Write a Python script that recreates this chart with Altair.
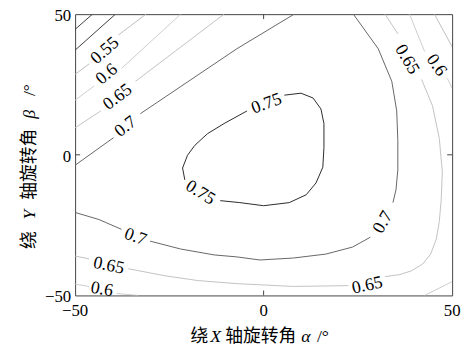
import altair as alt
import pandas as pd

# ---- contour levels and their line colours (grey-converted jet look) ----
LEVELS = ["0.45", "0.5", "0.55", "0.6", "0.65", "0.7", "0.75"]
LEVEL_COLORS = ["#3c3c3c", "#3c3c3c", "#bdbdbd", "#cdcdcd", "#c2c2c2", "#666666", "#2a2a2a"]

# ---- contour segments: (alpha, beta) points; gaps are label breaks ----
C045 = [[(-50, 44.6), (-45.4, 50)]]
C050 = [[(-50, 37.2), (-39.3, 50)]]
C055 = [
    [(-50, 28.6), (-46.3, 32.3)],
    [(-38.5, 42.6), (-31.2, 50)],
    [(45.3, 50), (50, 38.4)],
]
C060 = [
    [(-50, 19.4), (-45.0, 24.4)],
    [(-37.7, 30.7), (-22.0, 50)],
    [(38.7, 50), (42.7, 36.7)],
    [(48.7, 27.2), (50, 23.7)],
    [(-50, -46.0), (-46.3, -46.8)],
    [(-39.0, -49.3), (-33.2, -50)],
    [(42.7, -50), (50, -45.1)],
]
C065 = [
    [(-50, 9.6), (-43.2, 15.6)],
    [(-34.0, 26.1), (-10.5, 50)],
    [(-50, -36.0), (-46.3, -37.0)],
    [(-35.9, -40.5), (-26.2, -43.0), (-17.5, -44.7), (-7.1, -45.8), (7.9, -46.8), (22.5, -46.5)],
    [(32.2, -43.3), (36.1, -42.6), (39.3, -41.2), (42.2, -38.8), (44.3, -35.3), (45.8, -30.0),
     (46.6, -23.7), (47.1, -16.0), (47.4, -6.1), (46.6, 5.8), (44.8, 17.4), (41.9, 26.8)],
    [(35.6, 43.0), (32.2, 50)],
]
C070 = [
    [(-50, -3.7), (-39.8, 6.1)],
    [(-32.7, 14.6), (-7.1, 37.7), (8.1, 50)],
    [(-50, -20.5), (-43.7, -23.0), (-37.7, -26.5)],
    [(-30.1, -30.7), (-22.0, -33.5), (-13.1, -35.6), (-7.1, -36.3), (-1.0, -37.4), (7.9, -36.7),
     (16.5, -35.3), (23.6, -32.8), (28.3, -29.3)],
    [(34.3, -17.0), (35.1, -12.5), (35.6, -5.4), (35.6, 5.1), (35.3, 15.6), (34.0, 26.1),
     (30.4, 37.7), (23.8, 50)],
]
C075 = [
    [(5.5, 21.2), (9.9, 21.9), (13.1, 20.2), (15.2, 16.3), (16.0, 11.1), (16.0, 2.6), (15.7, -4.4),
     (13.9, -10.0), (11.3, -14.2), (6.8, -17.0), (0.0, -18.1), (-6.3, -17.0), (-11.5, -16.3)],
    [(-20.9, -8.9), (-21.5, -4.7), (-20.2, -0.2), (-18.3, 3.3), (-14.9, 7.5), (-10.5, 11.1),
     (-4.4, 15.6)],
]

# ---- inline contour labels ----
LAB_TEXT = ["0.55", "0.6", "0.65", "0.7", "0.75", "0.75", "0.7", "0.65", "0.6", "0.7", "0.65", "0.65", "0.6"]
LAB_ALPHA = [-42.1, -41.6, -38.7, -36.6, 0.8, -16.8, -34.0, -41.1, -42.9, 31.7, 27.5, 38.0, 45.8]
LAB_BETA = [37.0, 28.6, 20.5, 10.0, 18.1, -13.5, -29.3, -39.5, -47.9, -24.0, -46.5, 33.9, 31.8]
LAB_ANGLE = [319, 320, 323, 322, 340, 32, 20, 12, 10, 300, 348, 60, 55]

TICKS = [-50, 0, 50]
INNER_TICKS = [0]

rows = []
for lev, segs in zip(LEVELS, [C045, C050, C055, C060, C065, C070, C075]):
    for si, seg in enumerate(segs):
        for oi, (a, b) in enumerate(seg):
            rows.append({"level": lev, "seg": f"{lev}-{si}", "o": oi, "a": a, "b": b})
df = pd.DataFrame(rows)
lab = pd.DataFrame({"t": LAB_TEXT, "a": LAB_ALPHA, "b": LAB_BETA, "ang": LAB_ANGLE})
tk = pd.DataFrame({"v": INNER_TICKS})
tl_df = pd.DataFrame({"v": TICKS})

W, H = 382, 285
xs = alt.Scale(domain=[-50, 50], nice=False, zero=False)
ys = alt.Scale(domain=[-50, 50], nice=False, zero=False)
SERIF = "'Times New Roman', 'Liberation Serif', 'DejaVu Serif', serif"
CJK = "'Noto Sans CJK SC', sans-serif"

lines = alt.Chart(df).mark_line(strokeWidth=1, clip=True).encode(
    x=alt.X("a:Q", scale=xs, axis=None),
    y=alt.Y("b:Q", scale=ys, axis=None),
    color=alt.Color("level:N", scale=alt.Scale(domain=LEVELS, range=LEVEL_COLORS), legend=None),
    detail="seg:N",
    order="o:Q",
)

labels = alt.Chart(lab).mark_text(font=SERIF, fontSize=18, color="black",
                                  align="center", baseline="middle").encode(
    x=alt.X("a:Q", scale=xs, axis=None),
    y=alt.Y("b:Q", scale=ys, axis=None),
    text="t:N",
    angle=alt.Angle("ang:Q", scale=None),
)

# tick labels drawn as text through the same scales
xlab = alt.Chart(tl_df).mark_text(font=SERIF, fontSize=17, color="black",
                                  align="center", baseline="middle").encode(
    x=alt.X("v:Q", scale=xs, axis=None), y=alt.value(H + 16),
    text=alt.Text("v:Q", format="d"))
ylab = alt.Chart(tl_df).mark_text(font=SERIF, fontSize=17, color="black",
                                  align="right", baseline="middle", dy=2).encode(
    y=alt.Y("v:Q", scale=ys, axis=None), x=alt.value(-4),
    text=alt.Text("v:Q", format="d"))

tick_color = "#444444"
tb = alt.Chart(tk).mark_rule(color=tick_color).encode(
    x=alt.X("v:Q", scale=xs, axis=None), y=alt.value(H), y2=alt.value(H - 5))
tt = alt.Chart(tk).mark_rule(color=tick_color).encode(
    x=alt.X("v:Q", scale=xs, axis=None), y=alt.value(0), y2=alt.value(5))
tl = alt.Chart(tk).mark_rule(color=tick_color).encode(
    y=alt.Y("v:Q", scale=ys, axis=None), x=alt.value(0), x2=alt.value(5))
tr = alt.Chart(tk).mark_rule(color=tick_color).encode(
    y=alt.Y("v:Q", scale=ys, axis=None), x=alt.value(W), x2=alt.value(W - 5))


def piece(txt, x, y, font, style="normal", angle=0):
    return alt.Chart(pd.DataFrame({"k": [0]})).mark_text(
        text=txt, font=font, fontStyle=style, fontSize=18, align="left",
        baseline="middle", angle=angle, color="black").encode(
        x=alt.value(x), y=alt.value(y))


title_parts = [
    piece("绕", 117, 327, CJK),
    piece("X", 137, 327, SERIF, "italic"),
    piece("轴旋转角", 152, 327, CJK),
    piece("α", 229, 327, SERIF, "italic"),
    piece("/°", 245, 327, SERIF),
    piece("绕", -46, 238, CJK, angle=270),
    piece("Y", -46, 208, SERIF, "italic", 270),
    piece("轴旋转角", -46, 188, CJK, angle=270),
    piece("β", -46, 106, SERIF, "italic", 270),
    piece("/°", -46, 83, SERIF, angle=270),
]

chart = alt.layer(lines, labels, xlab, ylab, tb, tt, tl, tr, *title_parts).properties(
    width=W, height=H,
    background="white",
    autosize=alt.AutoSizeParams(type="none"),
    padding={"left": 68, "top": 4, "right": 10, "bottom": 50},
).configure_view(stroke="#444444", strokeWidth=1)

chart.save("out.html", embed_options={"renderer": "svg", "actions": False})
